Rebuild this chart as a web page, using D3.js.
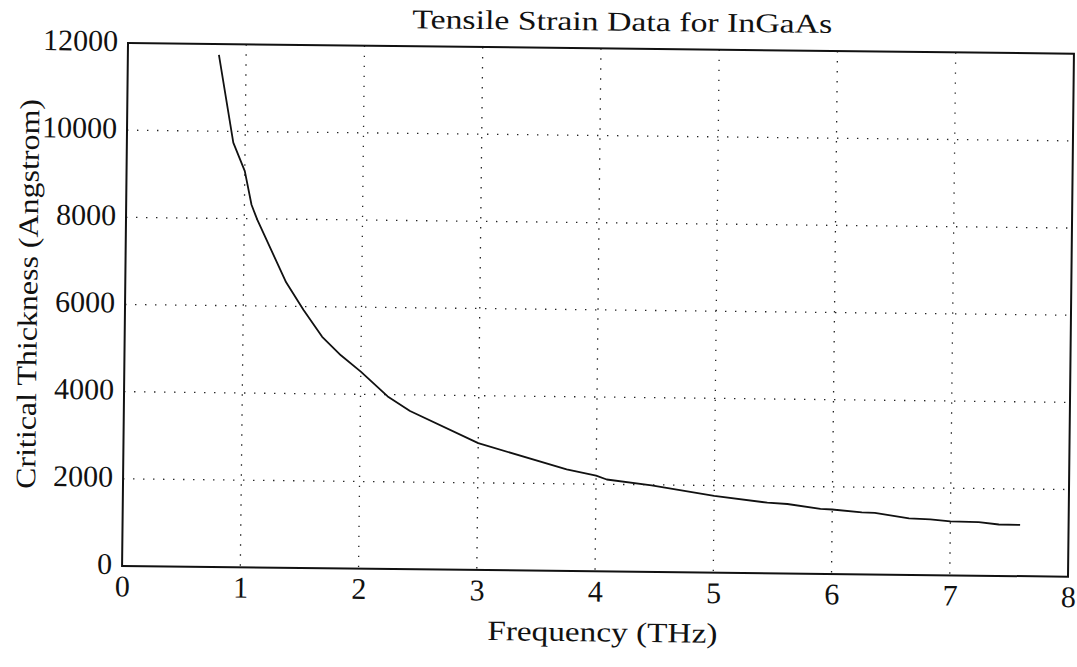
<!DOCTYPE html>
<html>
<head>
<meta charset="utf-8">
<script src="https://cdn.jsdelivr.net/npm/d3@7"></script>
<style>
  body { margin: 0; background: #fff; }
  svg { display: block; }
</style>
</head>
<body>
<div class="chart"></div>
<script>
// values
const freq = [0.77, 0.9, 1.0, 1.06, 1.11, 1.36, 1.51, 1.67, 1.83, 2.0, 2.23, 2.42, 3.0, 3.75,
  4.0, 4.09, 4.47, 5.0, 5.45, 5.62, 5.9, 6.0, 6.25, 6.36, 6.65, 6.83, 7.0, 7.24, 7.41, 7.59];
const thickness = [11750, 9740, 9090, 8320, 7980, 6550, 5920, 5310, 4890, 4520, 3960, 3630, 2910, 2330,
  2195, 2110, 1985, 1760, 1620, 1595, 1490, 1480, 1420, 1415, 1295, 1280, 1240, 1230, 1180, 1175];
const xTicks = [0, 1, 2, 3, 4, 5, 6, 7, 8];
const yTicks = [0, 2000, 4000, 6000, 8000, 10000, 12000];

const title = "Tensile Strain Data for InGaAs";
const xLabel = "Frequency (THz)";
const yLabel = "Critical Thickness (Angstrom)";

const W = 1077, H = 667;
const margin = {top: 43, left: 128};
const width = 946, height = 523;
const font = "'Liberation Serif', 'DejaVu Serif', serif";

const svg = d3.select(".chart")
  .append("svg")
    .attr("width", W)
    .attr("height", H);

// the scan is slightly tilted, so tilt the whole chart a little
const root = svg.append("g")
  .attr("transform", "rotate(0.65," + margin.left + "," + margin.top + ")");

const g = root.append("g")
  .attr("transform", "translate(" + margin.left + "," + margin.top + ")");

const x = d3.scaleLinear().domain([0, 8]).range([0, width]);
const y = d3.scaleLinear().domain([0, 12000]).range([height, 0]);

// dotted grid
g.append("g")
  .selectAll("line")
  .data(xTicks.slice(1, -1))
  .join("line")
    .attr("x1", d => x(d)).attr("x2", d => x(d))
    .attr("y1", 0).attr("y2", height)
    .attr("stroke", "#222")
    .attr("stroke-width", 1.3)
    .attr("stroke-dasharray", "1.4,8.6");

g.append("g")
  .selectAll("line")
  .data(yTicks.slice(1, -1))
  .join("line")
    .attr("x1", 0).attr("x2", width)
    .attr("y1", d => y(d)).attr("y2", d => y(d))
    .attr("stroke", "#222")
    .attr("stroke-width", 1.3)
    .attr("stroke-dasharray", "1.4,8.6");

// axes, labels only (no tick marks in the original)
const xAxis = g.append("g")
  .attr("transform", "translate(0," + height + ")")
  .call(d3.axisBottom(x).tickValues(xTicks).tickSize(0).tickPadding(9).tickFormat(d3.format("d")));
xAxis.select(".domain").remove();
xAxis.selectAll("text")
  .style("font-family", font)
  .style("font-size", "30px")
  .attr("fill", "#111");

const yAxis = g.append("g")
  .call(d3.axisLeft(y).tickValues(yTicks).tickSize(0).tickPadding(10).tickFormat(d3.format("d")));
yAxis.select(".domain").remove();
yAxis.selectAll("text")
  .style("font-family", font)
  .style("font-size", "30px")
  .attr("dy", "0.25em")
  .attr("fill", "#111");

// the curve
const line = d3.line()
  .x((d, i) => x(freq[i]))
  .y(d => y(d));

g.append("path")
  .datum(thickness)
  .attr("d", line)
  .attr("fill", "none")
  .attr("stroke", "#111")
  .attr("stroke-width", 1.8)
  .attr("stroke-linejoin", "round");

// frame
g.append("rect")
  .attr("x", 0).attr("y", 0)
  .attr("width", width).attr("height", height)
  .attr("fill", "none")
  .attr("stroke", "#111")
  .attr("stroke-width", 2);

// titles (the scan's lettering is a bit wider than Liberation Serif)
root.append("text")
  .attr("x", 412).attr("y", 25)
  .attr("textLength", 420)
  .attr("lengthAdjust", "spacingAndGlyphs")
  .style("font-family", font)
  .style("font-size", "27px")
  .attr("fill", "#111")
  .text(title);

root.append("text")
  .attr("x", 494).attr("y", 636)
  .attr("textLength", 230)
  .attr("lengthAdjust", "spacingAndGlyphs")
  .style("font-family", font)
  .style("font-size", "28px")
  .attr("fill", "#111")
  .text(xLabel);

root.append("text")
  .attr("transform", "translate(40,490) rotate(-90)")
  .attr("textLength", 390)
  .attr("lengthAdjust", "spacingAndGlyphs")
  .style("font-family", font)
  .style("font-size", "28px")
  .attr("fill", "#111")
  .text(yLabel);
</script>
</body>
</html>
